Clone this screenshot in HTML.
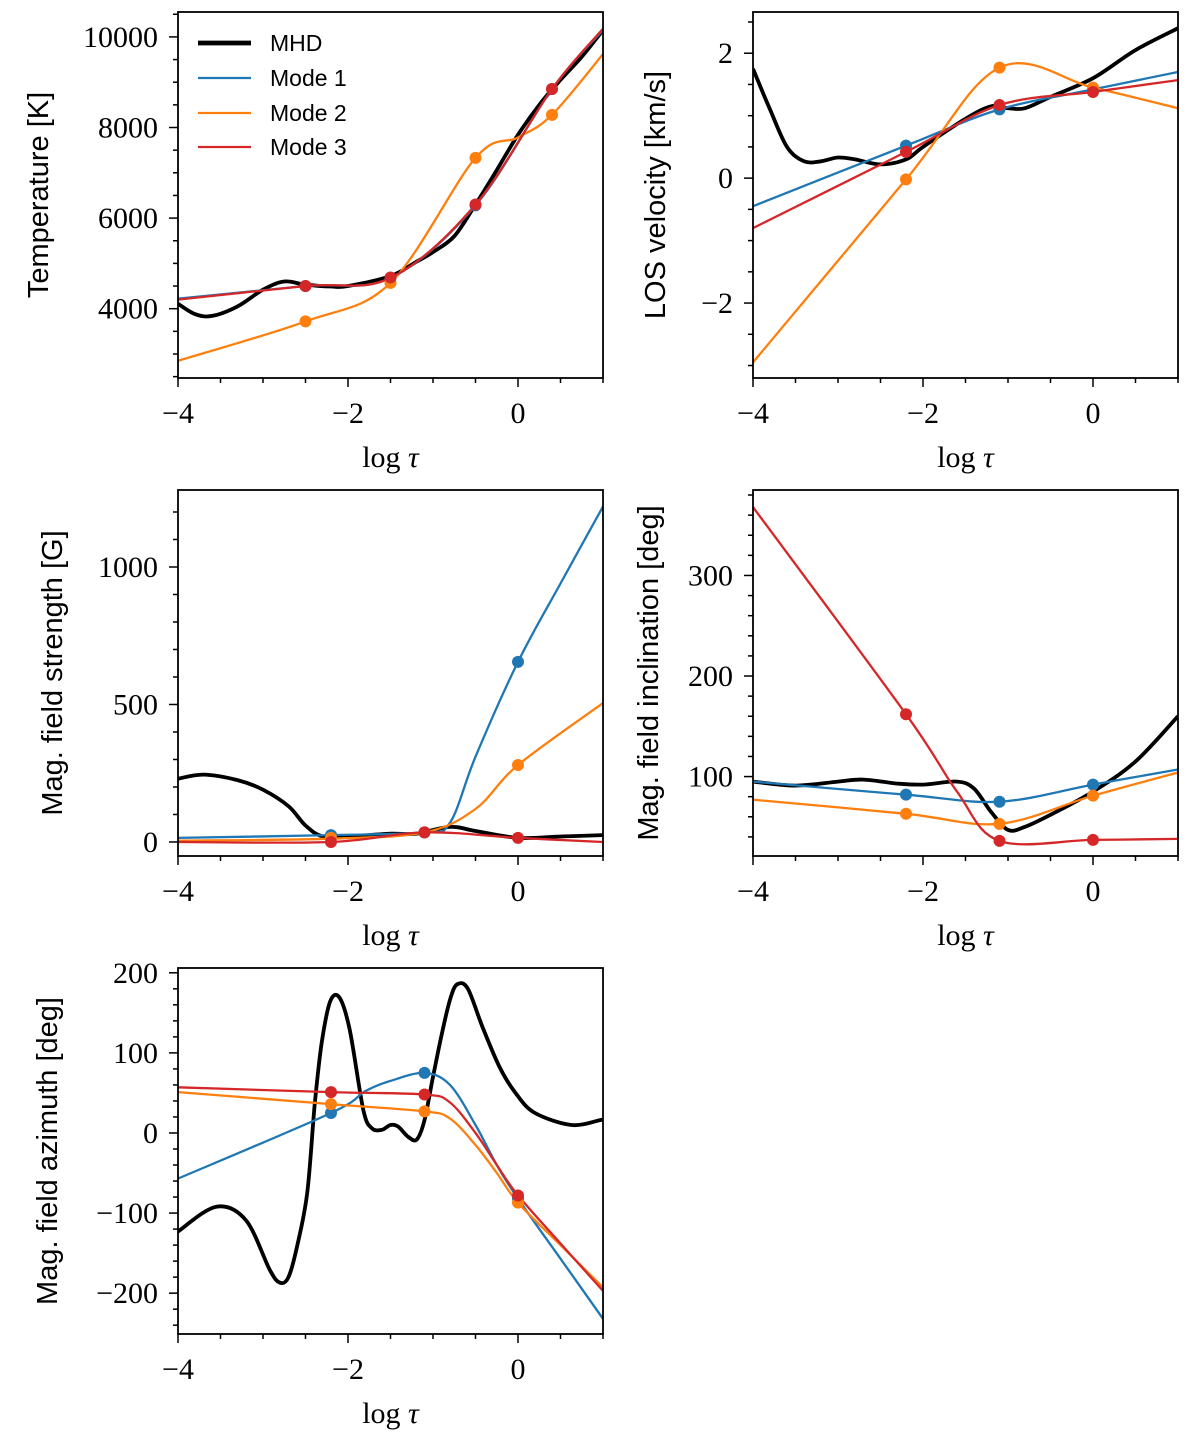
<!DOCTYPE html>
<html><head><meta charset="utf-8"><style>
body{margin:0;background:#fff}
svg{display:block}
.tl{font-family:"Liberation Serif",serif;font-size:30px;fill:#000}
.yl{font-family:"Liberation Sans",sans-serif;font-size:29px;fill:#000}
.xl{font-family:"Liberation Serif",serif;font-size:30px;fill:#000}
.lg{font-family:"Liberation Sans",sans-serif;font-size:23px;fill:#000}
</style></head><body>
<svg id="fig" width="1200" height="1443" viewBox="0 0 1200 1443" xmlns="http://www.w3.org/2000/svg"></svg>
<script>
// ---- Data ----
const tempMhdX=[-4,-3.8,-3.6,-3.3,-3,-2.75,-2.5,-2.2,-2,-1.5,-1.2,-1,-0.75,-0.5,-0.25,0,0.25,0.5,0.75,1];
const tempMhdY=[4110,3880,3840,4050,4420,4600,4530,4490,4500,4720,5030,5250,5600,6300,7060,7840,8500,9050,9560,10150];
const tempM1X=[-4,-2.5,-1.5,-0.5,0.4,1];const tempM1Y=[4220,4500,4680,6280,8850,10150];
const tempM2X=[-4,-2.5,-1.5,-0.5,0,0.4,1];const tempM2Y=[2850,3720,4570,7330,7780,8280,9620];
const tempM3X=[-4,-2.5,-1.5,-0.5,0.4,1];const tempM3Y=[4200,4500,4680,6300,8850,10180];
const tempNodesX=[-2.5,-1.5,-0.5,0.4];
const tempN1=[4500,4680,6280,8850];const tempN2=[3720,4570,7330,8280];const tempN3=[4500,4690,6300,8850];

const velMhdX=[-4,-3.8,-3.6,-3.4,-3.2,-3,-2.8,-2.5,-2.2,-2,-1.5,-1.2,-1,-0.8,-0.5,0,0.5,1];
const velMhdY=[1.75,1.1,0.5,0.27,0.27,0.33,0.3,0.22,0.3,0.5,0.95,1.15,1.12,1.12,1.3,1.6,2.05,2.4];
const velM1X=[-4,-2.2,-1.1,0,1];const velM1Y=[-0.45,0.52,1.1,1.42,1.7];
const velM2X=[-4,-2.2,-1.1,0,1];const velM2Y=[-2.95,-0.02,1.77,1.45,1.12];
const velM3X=[-4,-2.2,-1.1,0,1];const velM3Y=[-0.8,0.42,1.17,1.38,1.57];
const velNodesX=[-2.2,-1.1,0];
const velN1=[0.52,1.1,1.42];const velN2=[-0.02,1.77,1.45];const velN3=[0.42,1.17,1.38];

const bMhdX=[-4,-3.7,-3.3,-3,-2.7,-2.5,-2.3,-2,-1.5,-1.2,-0.8,-0.5,0,0.5,1];
const bMhdY=[230,245,225,190,130,60,20,20,30,30,55,40,15,20,25];
const bM1X=[-4,-2.2,-1.1,-0.8,-0.5,0,0.5,1];const bM1Y=[15,25,35,70,310,655,940,1220];
const bM2X=[-4,-2.2,-1.1,-0.5,0,1];const bM2Y=[5,12,35,120,280,505];
const bM3X=[-4,-2.2,-1.1,0,1];const bM3Y=[0,0,35,15,0];
const bNodesX=[-2.2,-1.1,0];
const bN1=[25,35,655];const bN2=[15,35,280];const bN3=[0,35,15];

const iMhdX=[-4,-3.5,-3,-2.7,-2.3,-2,-1.6,-1.4,-1.2,-1,-0.8,-0.5,0,0.5,1];
const iMhdY=[95,91,95,97,93,92,95,88,65,47,50,62,85,115,160];
const iM1X=[-4,-2.2,-1.1,0,1];const iM1Y=[95,82,75,92,107];
const iM2X=[-4,-2.2,-1.1,0,1];const iM2Y=[77,63,53,81,104];
const iM3X=[-4,-2.2,-1.6,-1.1,0,1];const iM3Y=[368,162,85,36,37,38];
const iNodesX=[-2.2,-1.1,0];
const iN1=[82,75,92];const iN2=[63,53,81];const iN3=[162,36,37];

const aMhdX=[-4,-3.55,-3.2,-2.92,-2.8,-2.7,-2.6,-2.48,-2.39,-2.31,-2.21,-2.1,-1.98,-1.82,-1.72,-1.6,-1.5,-1.41,-1.29,-1.19,-1.1,-1,-0.89,-0.79,-0.71,-0.59,-0.42,-0.22,-0.03,0.2,0.63,0.96,1];
const aMhdY=[-123,-92,-109,-171,-187,-180,-142,-75,37,112,164,169,129,29,6,4,10,8,-5,-8,16,70,127,170,186,180,133,83,50,25,10,16,17];
const aM1X=[-4,-2.2,-1.8,-1.5,-1.1,-0.8,-0.5,-0.25,0,0.5,1];const aM1Y=[-57,25,52,65,75,60,10,-40,-82,-157,-232];
const aM2X=[-4,-2.2,-1.1,-0.8,-0.5,-0.25,0,0.5,1];const aM2Y=[51,36,27,18,-15,-50,-87,-140,-193];
const aM3X=[-4,-2.2,-1.1,-0.8,-0.5,-0.25,0,0.5,1];const aM3Y=[57,51,48,38,0,-40,-78,-138,-197];
const aNodesX=[-2.2,-1.1,0];
const aN1=[25,75,-82];const aN2=[36,27,-87];const aN3=[51,48,-78];

const xTicks=[-4,-2,0];const xTickLabels=["\u22124","\u22122","0"];
const tempTicks=[4000,6000,8000,10000];
const velTicks=[-2,0,2];
const bTicks=[0,500,1000];
const iTicks=[100,200,300];
const aTicks=[-200,-100,0,100,200];

const C1="#1f77b4",C2="#ff7f0e",C3="#d62728";
const NS="http://www.w3.org/2000/svg";
const svg=document.getElementById('fig');
function mk(tag,attrs,parent){const e=document.createElementNS(NS,tag);for(const k in attrs)e.setAttribute(k,attrs[k]);(parent||svg).appendChild(e);return e;}
function fmt(v){return v<0?"\u2212"+Math.abs(v):String(v);}

function smooth(pts){
  let d="M"+pts[0][0].toFixed(1)+","+pts[0][1].toFixed(1);
  for(let i=0;i<pts.length-1;i++){
    const p0=pts[Math.max(i-1,0)],p1=pts[i],p2=pts[i+1],p3=pts[Math.min(i+2,pts.length-1)];
    const c1x=p1[0]+(p2[0]-p0[0])/6,c1y=p1[1]+(p2[1]-p0[1])/6;
    const c2x=p2[0]-(p3[0]-p1[0])/6,c2y=p2[1]-(p3[1]-p1[1])/6;
    d+=" C"+c1x.toFixed(1)+","+c1y.toFixed(1)+" "+c2x.toFixed(1)+","+c2y.toFixed(1)+" "+p2[0].toFixed(1)+","+p2[1].toFixed(1);
  }
  return d;
}

let pid=0;
function panel(o){
  pid++;
  const g=mk('g',{});
  
  
  const L=o.L,R=o.L+425,T=o.T,B=o.T+366;
  const sx=v=>L+(v+4)/5*(R-L);
  const sy=v=>B-(v-o.ymin)/(o.ymax-o.ymin)*(B-T);
  const cp=mk('clipPath',{id:'cp'+pid},g);mk('rect',{x:L,y:T,width:R-L,height:B-T},cp);
  const pg=mk('g',{'clip-path':'url(#cp'+pid+')'},g);
  const series=[[o.mx,o.my,'#000',3.8,'mhd-line'],[o.x1,o.y1,C1,2.3,'mode1-line'],[o.x2,o.y2,C2,2.3,'mode2-line'],[o.x3,o.y3,C3,2.3,'mode3-line']];
  series.forEach(s=>{
    const pts=s[0].map((x,i)=>[sx(x),sy(s[1][i])]);
    const p=mk('path',{d:smooth(pts),fill:'none',stroke:s[2],'stroke-width':s[3],'stroke-linejoin':'round'},pg);
    
    
  });
  [[o.n1,C1,'mode1-node'],[o.n2,C2,'mode2-node'],[o.n3,C3,'mode3-node']].forEach(s=>{
    s[0].forEach((v,i)=>{
      const c=mk('circle',{cx:sx(o.nx[i]),cy:sy(v),r:6,fill:s[1]},g);
      
      
    });
  });
  mk('rect',{x:L,y:T,width:R-L,height:B-T,fill:'none',stroke:'#000','stroke-width':1.8},g);
  for(let v=-4;v<=1.001;v+=0.5){
    const major=Math.abs(v-Math.round(v/2)*2)<1e-6&&v<=0;
    mk('line',{x1:sx(v),x2:sx(v),y1:B,y2:B+(major?9:5),stroke:'#000','stroke-width':1.5},g);
  }
  xTicks.forEach((v,i)=>{const t=mk('text',{x:sx(v),y:B+45,'text-anchor':'middle',class:'tl'},g);t.textContent=xTickLabels[i];
    });
  const xl=mk('text',{x:(L+R)/2,y:B+89,'text-anchor':'middle',class:'xl'},g);
  xl.innerHTML='log <tspan font-style="italic">\u03c4</tspan>';
  
  const m0=Math.ceil(o.ymin/o.minor)*o.minor;
  for(let v=m0;v<=o.ymax+1e-9;v+=o.minor){
    const major=o.ticks.some(t=>Math.abs(t-v)<o.minor*0.01);
    mk('line',{x1:L,x2:L-(major?9:5),y1:sy(v),y2:sy(v),stroke:'#000','stroke-width':1.5},g);
  }
  o.ticks.forEach(v=>{const t=mk('text',{x:L-20,y:sy(v)+10,'text-anchor':'end',class:'tl'},g);t.textContent=fmt(v);
    });
  const yl=mk('text',{x:o.ylx,y:(T+B)/2,'text-anchor':'middle',class:'yl',transform:'rotate(-90 '+o.ylx+' '+(T+B)/2+')'},g);
  yl.textContent=o.ylabel;
  
}

panel({name:'temperature-panel',L:178,T:12,ymin:2470,ymax:10550,ticks:tempTicks,minor:500,ylabel:'Temperature [K]',ylx:48,
  mx:tempMhdX,my:tempMhdY,x1:tempM1X,y1:tempM1Y,x2:tempM2X,y2:tempM2Y,x3:tempM3X,y3:tempM3Y,nx:tempNodesX,n1:tempN1,n2:tempN2,n3:tempN3});
panel({name:'los-velocity-panel',L:753,T:12,ymin:-3.2,ymax:2.66,ticks:velTicks,minor:0.5,ylabel:'LOS velocity [km/s]',ylx:665,
  mx:velMhdX,my:velMhdY,x1:velM1X,y1:velM1Y,x2:velM2X,y2:velM2Y,x3:velM3X,y3:velM3Y,nx:velNodesX,n1:velN1,n2:velN2,n3:velN3});
panel({name:'field-strength-panel',L:178,T:490,ymin:-51,ymax:1280,ticks:bTicks,minor:100,ylabel:'Mag. field strength [G]',ylx:62,
  mx:bMhdX,my:bMhdY,x1:bM1X,y1:bM1Y,x2:bM2X,y2:bM2Y,x3:bM3X,y3:bM3Y,nx:bNodesX,n1:bN1,n2:bN2,n3:bN3});
panel({name:'inclination-panel',L:753,T:490,ymin:21,ymax:385,ticks:iTicks,minor:20,ylabel:'Mag. field inclination [deg]',ylx:658,
  mx:iMhdX,my:iMhdY,x1:iM1X,y1:iM1Y,x2:iM2X,y2:iM2Y,x3:iM3X,y3:iM3Y,nx:iNodesX,n1:iN1,n2:iN2,n3:iN3});
panel({name:'azimuth-panel',L:178,T:968,ymin:-251,ymax:206,ticks:aTicks,minor:20,ylabel:'Mag. field azimuth [deg]',ylx:57,
  mx:aMhdX,my:aMhdY,x1:aM1X,y1:aM1Y,x2:aM2X,y2:aM2Y,x3:aM3X,y3:aM3Y,nx:aNodesX,n1:aN1,n2:aN2,n3:aN3});

const lg=mk('g',{});


[['MHD','#000',4.8,43],['Mode 1',C1,2.3,78],['Mode 2',C2,2.3,113],['Mode 3',C3,2.3,147]].forEach(e=>{
  const row=mk('g',{},lg);
  
  
  mk('line',{x1:198,x2:251,y1:e[3],y2:e[3],stroke:e[1],'stroke-width':e[2]},row);
  const t=mk('text',{x:270,y:e[3]+8,class:'lg'},row);t.textContent=e[0];
});
</script>
</body></html>
